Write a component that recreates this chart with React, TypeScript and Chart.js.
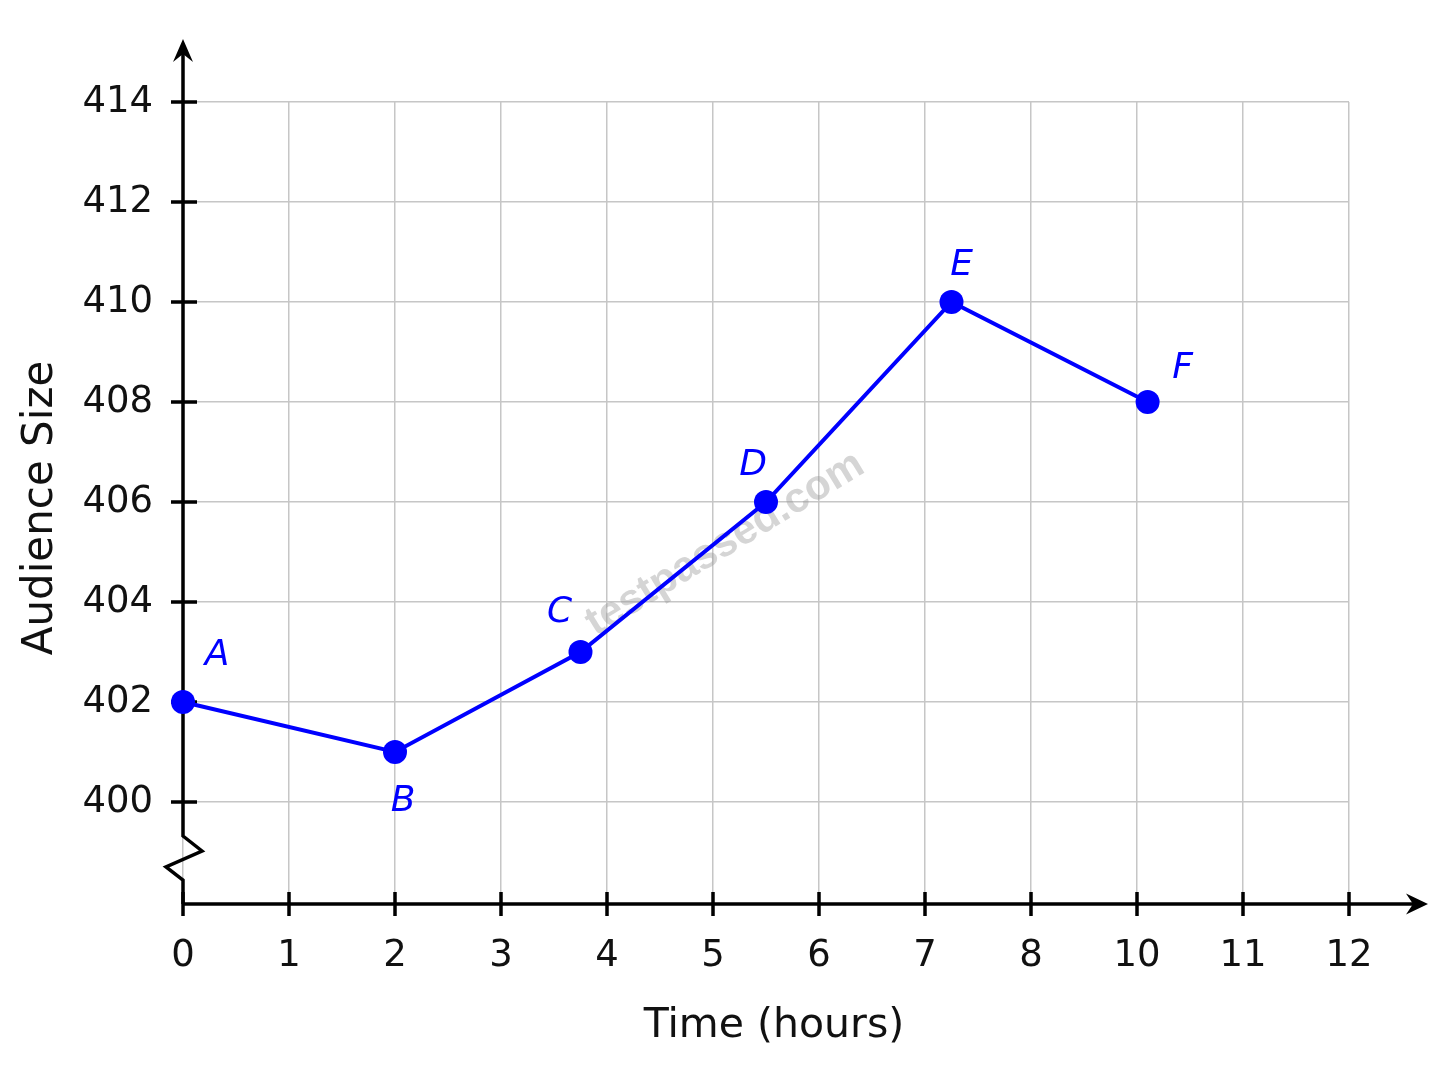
import { useEffect, useRef } from "react";
import { Chart, registerables } from "chart.js";
import type { ChartConfiguration, Plugin } from "chart.js";

Chart.register(...registerables);

// points (x is the position along the time axis)
const pointNames = ["A", "B", "C", "D", "E", "F"];
const timeValues = [0, 2, 3.75, 5.5, 7.25, 9.1];
const audienceValues = [402, 401, 403, 406, 410, 408];

// the time axis labels skip 9
const xTickLabels = ["0", "1", "2", "3", "4", "5", "6", "7", "8", "10", "11", "12"];
const yTickValues = [400, 402, 404, 406, 408, 410, 412, 414];

const BLUE = "#0000ff";
const GRID = "#c6c6c6";
const FONT = "'DejaVu Sans', Verdana, sans-serif";

// where each letter sits relative to its point (px: dx, baseline dy)
const labelOffsets = [
  [34, -37],
  [8, 59],
  [-21, -30],
  [-13, -27],
  [10, -27],
  [35, -24],
];

const axesPlugin: Plugin<"line"> = {
  id: "axesWithArrows",
  beforeDatasetsDraw(chart) {
    const { ctx, chartArea, scales } = chart;
    const xs = scales.x;
    const ys = scales.y;
    const x0 = chartArea.left;
    const y0 = chartArea.bottom;
    const xTip = chartArea.right + 79;
    const yTip = chartArea.top - 63;

    ctx.save();
    ctx.strokeStyle = "#000";
    ctx.fillStyle = "#000";
    ctx.lineWidth = 3.5;
    ctx.lineJoin = "miter";

    // x axis
    ctx.beginPath();
    ctx.moveTo(x0, y0);
    ctx.lineTo(xTip - 14, y0);
    ctx.stroke();
    ctx.beginPath();
    ctx.moveTo(xTip, y0);
    ctx.lineTo(xTip - 22, y0 - 10.5);
    ctx.lineTo(xTip - 15, y0);
    ctx.lineTo(xTip - 22, y0 + 10.5);
    ctx.closePath();
    ctx.fill();

    // y axis with the break
    ctx.beginPath();
    ctx.moveTo(x0, y0);
    ctx.lineTo(x0, y0 - 24);
    ctx.lineTo(x0 - 17, y0 - 37);
    ctx.lineTo(x0 + 19, y0 - 53);
    ctx.lineTo(x0, y0 - 68);
    ctx.lineTo(x0, yTip + 14);
    ctx.stroke();
    ctx.beginPath();
    ctx.moveTo(x0, yTip);
    ctx.lineTo(x0 - 10, yTip + 23);
    ctx.lineTo(x0, yTip + 15);
    ctx.lineTo(x0 + 10, yTip + 23);
    ctx.closePath();
    ctx.fill();

    // tick marks across the axes
    ctx.beginPath();
    yTickValues.forEach((v) => {
      const py = ys.getPixelForValue(v);
      ctx.moveTo(x0 - 12, py);
      ctx.lineTo(x0 + 14, py);
    });
    xTickLabels.forEach((_, i) => {
      const px = xs.getPixelForValue(i);
      ctx.moveTo(px, y0 - 12);
      ctx.lineTo(px, y0 + 12);
    });
    ctx.stroke();

    // axis titles
    ctx.fillStyle = "#111";
    ctx.textAlign = "center";
    ctx.textBaseline = "alphabetic";
    ctx.font = `41px ${FONT}`;
    ctx.fillText("Time (hours)", 774, 1037);
    ctx.save();
    ctx.translate(52, 508);
    ctx.rotate(-Math.PI / 2);
    ctx.font = `42px ${FONT}`;
    ctx.fillText("Audience Size", 0, 0);
    ctx.restore();

    // watermark
    ctx.save();
    ctx.translate(725, 544);
    ctx.rotate((-31.4 * Math.PI) / 180);
    ctx.font = "bold 42px 'Liberation Sans', Arial, sans-serif";
    ctx.fillStyle = "rgba(150, 150, 150, 0.4)";
    ctx.textAlign = "center";
    ctx.textBaseline = "middle";
    ctx.fillText("testpassed.com", 0, 0);
    ctx.restore();

    ctx.restore();
  },
  afterDatasetsDraw(chart) {
    const { ctx } = chart;
    const meta = chart.getDatasetMeta(0);
    ctx.save();
    ctx.fillStyle = BLUE;
    ctx.font = `italic 36px ${FONT}`;
    ctx.textAlign = "center";
    ctx.textBaseline = "alphabetic";
    meta.data.forEach((pt, i) => {
      const [dx, dy] = labelOffsets[i];
      ctx.fillText(pointNames[i], pt.x + dx, pt.y + dy);
    });
    ctx.restore();
  },
};

export default function App() {
  const canvasRef = useRef<HTMLCanvasElement>(null);

  useEffect(() => {
    if (!canvasRef.current) return;

    const config: ChartConfiguration<"line"> = {
      type: "line",
      data: {
        datasets: [
          {
            label: "Audience Size",
            data: timeValues.map((t, i) => ({ x: t, y: audienceValues[i] })),
            borderColor: BLUE,
            backgroundColor: BLUE,
            borderWidth: 4,
            pointRadius: 12,
            pointBorderWidth: 0,
            pointBackgroundColor: BLUE,
            tension: 0,
            clip: false,
          },
        ],
      },
      options: {
        animation: false,
        responsive: true,
        maintainAspectRatio: false,
        layout: { padding: { top: 102, right: 99, left: 0, bottom: 0 } },
        plugins: {
          legend: { display: false },
          tooltip: { enabled: false },
        },
        scales: {
          x: {
            type: "linear",
            min: 0,
            max: xTickLabels.length - 1,
            afterFit: (scale) => {
              scale.height = 182;
            },
            afterBuildTicks: (axis) => {
              axis.ticks = xTickLabels.map((_, i) => ({ value: i }));
            },
            ticks: {
              autoSkip: false,
              maxRotation: 0,
              padding: 30,
              color: "#111",
              font: { family: FONT, size: 37 },
              callback: (_v, index) => xTickLabels[index],
            },
            grid: { color: GRID, lineWidth: 1.5, drawTicks: false },
            border: { display: false },
          },
          y: {
            type: "linear",
            min: 397.96,
            max: 414,
            afterFit: (scale) => {
              scale.width = 183;
            },
            afterBuildTicks: (axis) => {
              axis.ticks = yTickValues.map((v) => ({ value: v }));
            },
            ticks: {
              padding: 30,
              color: "#111",
              font: { family: FONT, size: 37 },
              callback: (v) => String(v),
            },
            grid: { color: GRID, lineWidth: 1.5, drawTicks: false },
            border: { display: false },
          },
        },
      },
      plugins: [axesPlugin],
    };

    const chart = new Chart(canvasRef.current, config);
    return () => chart.destroy();
  }, []);

  return (
    <div
      style={{
        position: "fixed",
        left: 0,
        top: 0,
        width: 1448,
        height: 1086,
        background: "#fff",
      }}
    >
      <canvas ref={canvasRef} />
    </div>
  );
}
